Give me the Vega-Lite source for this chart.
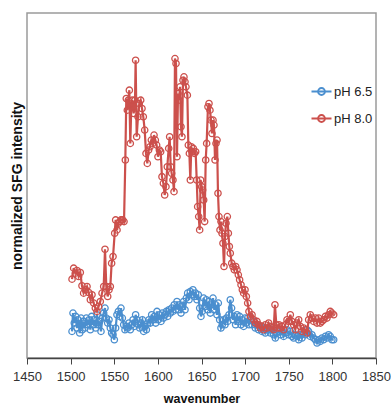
{
  "$schema": "https://vega.github.io/schema/vega-lite/v6.json",
  "width": 349,
  "height": 345,
  "autosize": {"type": "none"},
  "padding": {"left": 27, "top": 13, "right": 15, "bottom": 50},
  "background": "white",
  "config": {
    "view": {"stroke": "#9a9a9a", "strokeWidth": 1.5},
    "font": "Liberation Sans"
  },
  "datasets": {
    "spectra": [
      {"series":"pH 6.5","wavenumber":1501.6,"intensity":8.0},
      {"series":"pH 6.5","wavenumber":1502.7,"intensity":13.5},
      {"series":"pH 6.5","wavenumber":1504.2,"intensity":10.5},
      {"series":"pH 6.5","wavenumber":1505.8,"intensity":12.5},
      {"series":"pH 6.5","wavenumber":1507.3,"intensity":9.0},
      {"series":"pH 6.5","wavenumber":1508.8,"intensity":11.5},
      {"series":"pH 6.5","wavenumber":1510.4,"intensity":7.5},
      {"series":"pH 6.5","wavenumber":1511.9,"intensity":12.0},
      {"series":"pH 6.5","wavenumber":1513.4,"intensity":8.5},
      {"series":"pH 6.5","wavenumber":1514.9,"intensity":11.0},
      {"series":"pH 6.5","wavenumber":1516.5,"intensity":9.0},
      {"series":"pH 6.5","wavenumber":1518.0,"intensity":12.0},
      {"series":"pH 6.5","wavenumber":1519.5,"intensity":10.0},
      {"series":"pH 6.5","wavenumber":1521.1,"intensity":11.5},
      {"series":"pH 6.5","wavenumber":1522.6,"intensity":8.5},
      {"series":"pH 6.5","wavenumber":1524.1,"intensity":12.5},
      {"series":"pH 6.5","wavenumber":1525.6,"intensity":10.0},
      {"series":"pH 6.5","wavenumber":1527.2,"intensity":11.5},
      {"series":"pH 6.5","wavenumber":1528.7,"intensity":9.0},
      {"series":"pH 6.5","wavenumber":1530.2,"intensity":13.0},
      {"series":"pH 6.5","wavenumber":1531.8,"intensity":10.0},
      {"series":"pH 6.5","wavenumber":1533.3,"intensity":11.0},
      {"series":"pH 6.5","wavenumber":1534.8,"intensity":8.0},
      {"series":"pH 6.5","wavenumber":1536.3,"intensity":12.0},
      {"series":"pH 6.5","wavenumber":1537.9,"intensity":13.5},
      {"series":"pH 6.5","wavenumber":1539.4,"intensity":15.0},
      {"series":"pH 6.5","wavenumber":1540.9,"intensity":12.0},
      {"series":"pH 6.5","wavenumber":1542.5,"intensity":10.5},
      {"series":"pH 6.5","wavenumber":1544.0,"intensity":11.5},
      {"series":"pH 6.5","wavenumber":1545.5,"intensity":9.0},
      {"series":"pH 6.5","wavenumber":1547.0,"intensity":7.5},
      {"series":"pH 6.5","wavenumber":1548.6,"intensity":7.0},
      {"series":"pH 6.5","wavenumber":1550.1,"intensity":5.5},
      {"series":"pH 6.5","wavenumber":1551.6,"intensity":9.0},
      {"series":"pH 6.5","wavenumber":1553.1,"intensity":13.0},
      {"series":"pH 6.5","wavenumber":1554.7,"intensity":14.0},
      {"series":"pH 6.5","wavenumber":1556.2,"intensity":12.5},
      {"series":"pH 6.5","wavenumber":1557.7,"intensity":15.0},
      {"series":"pH 6.5","wavenumber":1559.3,"intensity":12.0},
      {"series":"pH 6.5","wavenumber":1560.8,"intensity":10.0},
      {"series":"pH 6.5","wavenumber":1562.3,"intensity":8.5},
      {"series":"pH 6.5","wavenumber":1563.8,"intensity":9.5},
      {"series":"pH 6.5","wavenumber":1565.4,"intensity":9.0},
      {"series":"pH 6.5","wavenumber":1566.9,"intensity":10.5},
      {"series":"pH 6.5","wavenumber":1568.4,"intensity":8.5},
      {"series":"pH 6.5","wavenumber":1570.0,"intensity":10.0},
      {"series":"pH 6.5","wavenumber":1571.5,"intensity":11.5},
      {"series":"pH 6.5","wavenumber":1573.0,"intensity":9.5},
      {"series":"pH 6.5","wavenumber":1574.5,"intensity":13.0},
      {"series":"pH 6.5","wavenumber":1576.1,"intensity":11.5},
      {"series":"pH 6.5","wavenumber":1577.6,"intensity":10.0},
      {"series":"pH 6.5","wavenumber":1579.1,"intensity":9.0},
      {"series":"pH 6.5","wavenumber":1580.6,"intensity":10.5},
      {"series":"pH 6.5","wavenumber":1582.2,"intensity":11.5},
      {"series":"pH 6.5","wavenumber":1583.7,"intensity":8.0},
      {"series":"pH 6.5","wavenumber":1585.2,"intensity":9.5},
      {"series":"pH 6.5","wavenumber":1586.8,"intensity":8.5},
      {"series":"pH 6.5","wavenumber":1588.3,"intensity":10.5},
      {"series":"pH 6.5","wavenumber":1589.8,"intensity":11.5},
      {"series":"pH 6.5","wavenumber":1591.3,"intensity":10.5},
      {"series":"pH 6.5","wavenumber":1592.9,"intensity":13.0},
      {"series":"pH 6.5","wavenumber":1594.4,"intensity":11.5},
      {"series":"pH 6.5","wavenumber":1595.9,"intensity":12.5},
      {"series":"pH 6.5","wavenumber":1597.5,"intensity":10.5},
      {"series":"pH 6.5","wavenumber":1599.0,"intensity":14.0},
      {"series":"pH 6.5","wavenumber":1600.5,"intensity":11.5},
      {"series":"pH 6.5","wavenumber":1602.0,"intensity":13.0},
      {"series":"pH 6.5","wavenumber":1603.6,"intensity":11.0},
      {"series":"pH 6.5","wavenumber":1605.1,"intensity":13.5},
      {"series":"pH 6.5","wavenumber":1606.6,"intensity":12.0},
      {"series":"pH 6.5","wavenumber":1608.1,"intensity":13.0},
      {"series":"pH 6.5","wavenumber":1609.7,"intensity":14.0},
      {"series":"pH 6.5","wavenumber":1611.2,"intensity":12.5},
      {"series":"pH 6.5","wavenumber":1612.7,"intensity":14.5},
      {"series":"pH 6.5","wavenumber":1614.3,"intensity":13.5},
      {"series":"pH 6.5","wavenumber":1615.8,"intensity":15.0},
      {"series":"pH 6.5","wavenumber":1617.3,"intensity":14.0},
      {"series":"pH 6.5","wavenumber":1618.8,"intensity":16.0},
      {"series":"pH 6.5","wavenumber":1620.4,"intensity":14.5},
      {"series":"pH 6.5","wavenumber":1621.9,"intensity":17.0},
      {"series":"pH 6.5","wavenumber":1623.4,"intensity":14.5},
      {"series":"pH 6.5","wavenumber":1625.0,"intensity":16.0},
      {"series":"pH 6.5","wavenumber":1626.5,"intensity":13.5},
      {"series":"pH 6.5","wavenumber":1628.0,"intensity":15.5},
      {"series":"pH 6.5","wavenumber":1629.5,"intensity":17.0},
      {"series":"pH 6.5","wavenumber":1631.1,"intensity":14.5},
      {"series":"pH 6.5","wavenumber":1632.6,"intensity":18.0},
      {"series":"pH 6.5","wavenumber":1634.1,"intensity":19.5},
      {"series":"pH 6.5","wavenumber":1635.7,"intensity":17.5},
      {"series":"pH 6.5","wavenumber":1637.2,"intensity":20.0},
      {"series":"pH 6.5","wavenumber":1638.7,"intensity":19.0},
      {"series":"pH 6.5","wavenumber":1640.2,"intensity":20.5},
      {"series":"pH 6.5","wavenumber":1641.8,"intensity":18.5},
      {"series":"pH 6.5","wavenumber":1643.3,"intensity":19.5},
      {"series":"pH 6.5","wavenumber":1644.8,"intensity":17.5},
      {"series":"pH 6.5","wavenumber":1646.3,"intensity":19.0},
      {"series":"pH 6.5","wavenumber":1647.9,"intensity":15.0},
      {"series":"pH 6.5","wavenumber":1649.4,"intensity":12.5},
      {"series":"pH 6.5","wavenumber":1650.9,"intensity":14.0},
      {"series":"pH 6.5","wavenumber":1652.5,"intensity":18.0},
      {"series":"pH 6.5","wavenumber":1654.0,"intensity":15.5},
      {"series":"pH 6.5","wavenumber":1655.5,"intensity":17.5},
      {"series":"pH 6.5","wavenumber":1657.0,"intensity":14.5},
      {"series":"pH 6.5","wavenumber":1658.6,"intensity":17.0},
      {"series":"pH 6.5","wavenumber":1660.1,"intensity":13.5},
      {"series":"pH 6.5","wavenumber":1661.6,"intensity":16.0},
      {"series":"pH 6.5","wavenumber":1663.2,"intensity":18.0},
      {"series":"pH 6.5","wavenumber":1664.7,"intensity":14.5},
      {"series":"pH 6.5","wavenumber":1666.2,"intensity":16.0},
      {"series":"pH 6.5","wavenumber":1667.7,"intensity":13.0},
      {"series":"pH 6.5","wavenumber":1669.3,"intensity":16.5},
      {"series":"pH 6.5","wavenumber":1670.8,"intensity":11.5},
      {"series":"pH 6.5","wavenumber":1672.3,"intensity":9.0},
      {"series":"pH 6.5","wavenumber":1673.8,"intensity":10.0},
      {"series":"pH 6.5","wavenumber":1675.4,"intensity":11.5},
      {"series":"pH 6.5","wavenumber":1676.9,"intensity":10.0},
      {"series":"pH 6.5","wavenumber":1678.4,"intensity":12.0},
      {"series":"pH 6.5","wavenumber":1680.0,"intensity":11.0},
      {"series":"pH 6.5","wavenumber":1681.5,"intensity":13.0},
      {"series":"pH 6.5","wavenumber":1683.0,"intensity":17.5},
      {"series":"pH 6.5","wavenumber":1684.5,"intensity":15.0},
      {"series":"pH 6.5","wavenumber":1686.1,"intensity":11.5},
      {"series":"pH 6.5","wavenumber":1687.6,"intensity":12.5},
      {"series":"pH 6.5","wavenumber":1689.1,"intensity":10.0},
      {"series":"pH 6.5","wavenumber":1690.7,"intensity":13.0},
      {"series":"pH 6.5","wavenumber":1692.2,"intensity":11.0},
      {"series":"pH 6.5","wavenumber":1693.7,"intensity":12.5},
      {"series":"pH 6.5","wavenumber":1695.2,"intensity":10.0},
      {"series":"pH 6.5","wavenumber":1696.8,"intensity":11.5},
      {"series":"pH 6.5","wavenumber":1698.3,"intensity":9.5},
      {"series":"pH 6.5","wavenumber":1699.8,"intensity":12.0},
      {"series":"pH 6.5","wavenumber":1701.4,"intensity":10.5},
      {"series":"pH 6.5","wavenumber":1702.9,"intensity":12.0},
      {"series":"pH 6.5","wavenumber":1704.4,"intensity":10.0},
      {"series":"pH 6.5","wavenumber":1705.9,"intensity":11.5},
      {"series":"pH 6.5","wavenumber":1707.9,"intensity":10.0},
      {"series":"pH 6.5","wavenumber":1709.8,"intensity":11.0},
      {"series":"pH 6.5","wavenumber":1711.7,"intensity":9.0},
      {"series":"pH 6.5","wavenumber":1713.6,"intensity":10.0},
      {"series":"pH 6.5","wavenumber":1715.5,"intensity":8.5},
      {"series":"pH 6.5","wavenumber":1717.4,"intensity":9.5},
      {"series":"pH 6.5","wavenumber":1719.3,"intensity":8.0},
      {"series":"pH 6.5","wavenumber":1721.2,"intensity":9.0},
      {"series":"pH 6.5","wavenumber":1723.2,"intensity":7.5},
      {"series":"pH 6.5","wavenumber":1725.1,"intensity":8.5},
      {"series":"pH 6.5","wavenumber":1727.0,"intensity":9.0},
      {"series":"pH 6.5","wavenumber":1728.9,"intensity":7.5},
      {"series":"pH 6.5","wavenumber":1730.8,"intensity":8.5},
      {"series":"pH 6.5","wavenumber":1732.7,"intensity":7.0},
      {"series":"pH 6.5","wavenumber":1734.6,"intensity":6.0},
      {"series":"pH 6.5","wavenumber":1736.5,"intensity":7.5},
      {"series":"pH 6.5","wavenumber":1738.4,"intensity":8.0},
      {"series":"pH 6.5","wavenumber":1740.4,"intensity":7.0},
      {"series":"pH 6.5","wavenumber":1742.3,"intensity":8.0},
      {"series":"pH 6.5","wavenumber":1744.2,"intensity":6.5},
      {"series":"pH 6.5","wavenumber":1746.1,"intensity":7.5},
      {"series":"pH 6.5","wavenumber":1748.0,"intensity":8.5},
      {"series":"pH 6.5","wavenumber":1749.9,"intensity":7.0},
      {"series":"pH 6.5","wavenumber":1751.8,"intensity":8.0},
      {"series":"pH 6.5","wavenumber":1753.7,"intensity":6.5},
      {"series":"pH 6.5","wavenumber":1755.6,"intensity":6.0},
      {"series":"pH 6.5","wavenumber":1757.5,"intensity":7.0},
      {"series":"pH 6.5","wavenumber":1759.5,"intensity":6.5},
      {"series":"pH 6.5","wavenumber":1761.4,"intensity":5.5},
      {"series":"pH 6.5","wavenumber":1763.3,"intensity":7.0},
      {"series":"pH 6.5","wavenumber":1765.2,"intensity":6.0},
      {"series":"pH 6.5","wavenumber":1767.1,"intensity":7.5},
      {"series":"pH 6.5","wavenumber":1769.0,"intensity":7.0},
      {"series":"pH 6.5","wavenumber":1770.9,"intensity":8.5},
      {"series":"pH 6.5","wavenumber":1772.8,"intensity":8.0},
      {"series":"pH 6.5","wavenumber":1774.7,"intensity":6.5},
      {"series":"pH 6.5","wavenumber":1776.6,"intensity":7.0},
      {"series":"pH 6.5","wavenumber":1778.5,"intensity":6.0},
      {"series":"pH 6.5","wavenumber":1780.5,"intensity":5.5},
      {"series":"pH 6.5","wavenumber":1782.4,"intensity":4.5},
      {"series":"pH 6.5","wavenumber":1784.3,"intensity":5.5},
      {"series":"pH 6.5","wavenumber":1786.2,"intensity":5.0},
      {"series":"pH 6.5","wavenumber":1788.1,"intensity":6.0},
      {"series":"pH 6.5","wavenumber":1790.0,"intensity":5.5},
      {"series":"pH 6.5","wavenumber":1791.9,"intensity":6.5},
      {"series":"pH 6.5","wavenumber":1793.8,"intensity":6.0},
      {"series":"pH 6.5","wavenumber":1795.7,"intensity":7.0},
      {"series":"pH 6.5","wavenumber":1797.6,"intensity":6.5},
      {"series":"pH 6.5","wavenumber":1799.5,"intensity":5.5},
      {"series":"pH 6.5","wavenumber":1801.5,"intensity":5.5},
      {"series":"pH 8.0","wavenumber":1501.6,"intensity":23.7},
      {"series":"pH 8.0","wavenumber":1503.5,"intensity":27.0},
      {"series":"pH 8.0","wavenumber":1505.4,"intensity":25.5},
      {"series":"pH 8.0","wavenumber":1507.3,"intensity":26.3},
      {"series":"pH 8.0","wavenumber":1509.2,"intensity":24.5},
      {"series":"pH 8.0","wavenumber":1511.1,"intensity":25.7},
      {"series":"pH 8.0","wavenumber":1513.0,"intensity":21.7},
      {"series":"pH 8.0","wavenumber":1514.9,"intensity":19.5},
      {"series":"pH 8.0","wavenumber":1516.9,"intensity":20.5},
      {"series":"pH 8.0","wavenumber":1518.8,"intensity":21.5},
      {"series":"pH 8.0","wavenumber":1520.7,"intensity":19.7},
      {"series":"pH 8.0","wavenumber":1522.6,"intensity":17.5},
      {"series":"pH 8.0","wavenumber":1524.5,"intensity":19.0},
      {"series":"pH 8.0","wavenumber":1526.4,"intensity":16.5},
      {"series":"pH 8.0","wavenumber":1528.3,"intensity":15.0},
      {"series":"pH 8.0","wavenumber":1530.2,"intensity":14.0},
      {"series":"pH 8.0","wavenumber":1532.1,"intensity":15.5},
      {"series":"pH 8.0","wavenumber":1534.0,"intensity":17.0},
      {"series":"pH 8.0","wavenumber":1536.0,"intensity":19.5},
      {"series":"pH 8.0","wavenumber":1537.9,"intensity":21.5},
      {"series":"pH 8.0","wavenumber":1539.4,"intensity":32.7},
      {"series":"pH 8.0","wavenumber":1540.9,"intensity":21.5},
      {"series":"pH 8.0","wavenumber":1542.5,"intensity":18.5},
      {"series":"pH 8.0","wavenumber":1544.0,"intensity":20.5},
      {"series":"pH 8.0","wavenumber":1545.5,"intensity":21.5},
      {"series":"pH 8.0","wavenumber":1547.0,"intensity":28.5},
      {"series":"pH 8.0","wavenumber":1548.6,"intensity":30.5},
      {"series":"pH 8.0","wavenumber":1550.5,"intensity":37.5},
      {"series":"pH 8.0","wavenumber":1551.6,"intensity":41.5},
      {"series":"pH 8.0","wavenumber":1553.2,"intensity":38.5},
      {"series":"pH 8.0","wavenumber":1554.7,"intensity":40.5},
      {"series":"pH 8.0","wavenumber":1556.2,"intensity":41.0},
      {"series":"pH 8.0","wavenumber":1557.7,"intensity":41.5},
      {"series":"pH 8.0","wavenumber":1559.6,"intensity":41.5},
      {"series":"pH 8.0","wavenumber":1561.2,"intensity":41.0},
      {"series":"pH 8.0","wavenumber":1562.7,"intensity":59.5},
      {"series":"pH 8.0","wavenumber":1563.8,"intensity":78.0},
      {"series":"pH 8.0","wavenumber":1565.0,"intensity":74.5},
      {"series":"pH 8.0","wavenumber":1566.1,"intensity":77.5},
      {"series":"pH 8.0","wavenumber":1567.3,"intensity":80.5},
      {"series":"pH 8.0","wavenumber":1568.4,"intensity":64.5},
      {"series":"pH 8.0","wavenumber":1569.6,"intensity":76.4},
      {"series":"pH 8.0","wavenumber":1570.7,"intensity":77.5},
      {"series":"pH 8.0","wavenumber":1572.3,"intensity":73.5},
      {"series":"pH 8.0","wavenumber":1573.8,"intensity":77.5},
      {"series":"pH 8.0","wavenumber":1574.5,"intensity":89.5},
      {"series":"pH 8.0","wavenumber":1575.7,"intensity":66.5},
      {"series":"pH 8.0","wavenumber":1577.2,"intensity":72.5},
      {"series":"pH 8.0","wavenumber":1578.7,"intensity":76.5},
      {"series":"pH 8.0","wavenumber":1580.3,"intensity":77.5},
      {"series":"pH 8.0","wavenumber":1581.8,"intensity":75.0},
      {"series":"pH 8.0","wavenumber":1583.3,"intensity":72.5},
      {"series":"pH 8.0","wavenumber":1584.9,"intensity":68.5},
      {"series":"pH 8.0","wavenumber":1586.4,"intensity":61.5},
      {"series":"pH 8.0","wavenumber":1587.9,"intensity":58.5},
      {"series":"pH 8.0","wavenumber":1589.4,"intensity":62.5},
      {"series":"pH 8.0","wavenumber":1591.0,"intensity":63.5},
      {"series":"pH 8.0","wavenumber":1592.5,"intensity":65.5},
      {"series":"pH 8.0","wavenumber":1594.0,"intensity":64.5},
      {"series":"pH 8.0","wavenumber":1595.6,"intensity":67.0},
      {"series":"pH 8.0","wavenumber":1597.1,"intensity":65.5},
      {"series":"pH 8.0","wavenumber":1598.6,"intensity":64.0},
      {"series":"pH 8.0","wavenumber":1600.1,"intensity":60.5},
      {"series":"pH 8.0","wavenumber":1601.7,"intensity":62.5},
      {"series":"pH 8.0","wavenumber":1603.2,"intensity":62.0},
      {"series":"pH 8.0","wavenumber":1604.7,"intensity":54.5},
      {"series":"pH 8.0","wavenumber":1606.3,"intensity":52.5},
      {"series":"pH 8.0","wavenumber":1607.8,"intensity":49.0},
      {"series":"pH 8.0","wavenumber":1609.3,"intensity":51.5},
      {"series":"pH 8.0","wavenumber":1610.8,"intensity":57.5},
      {"series":"pH 8.0","wavenumber":1612.4,"intensity":63.0},
      {"series":"pH 8.0","wavenumber":1613.5,"intensity":66.5},
      {"series":"pH 8.0","wavenumber":1614.7,"intensity":57.5},
      {"series":"pH 8.0","wavenumber":1615.8,"intensity":55.5},
      {"series":"pH 8.0","wavenumber":1617.3,"intensity":53.5},
      {"series":"pH 8.0","wavenumber":1618.5,"intensity":50.0},
      {"series":"pH 8.0","wavenumber":1619.6,"intensity":90.0},
      {"series":"pH 8.0","wavenumber":1620.8,"intensity":88.5},
      {"series":"pH 8.0","wavenumber":1621.9,"intensity":60.5},
      {"series":"pH 8.0","wavenumber":1623.1,"intensity":79.5},
      {"series":"pH 8.0","wavenumber":1624.2,"intensity":77.5},
      {"series":"pH 8.0","wavenumber":1625.4,"intensity":81.5},
      {"series":"pH 8.0","wavenumber":1626.5,"intensity":69.5},
      {"series":"pH 8.0","wavenumber":1627.6,"intensity":66.5},
      {"series":"pH 8.0","wavenumber":1628.8,"intensity":83.5},
      {"series":"pH 8.0","wavenumber":1629.9,"intensity":84.5},
      {"series":"pH 8.0","wavenumber":1631.1,"intensity":83.0},
      {"series":"pH 8.0","wavenumber":1632.2,"intensity":81.5},
      {"series":"pH 8.0","wavenumber":1633.8,"intensity":79.0},
      {"series":"pH 8.0","wavenumber":1634.9,"intensity":64.0},
      {"series":"pH 8.0","wavenumber":1636.1,"intensity":61.5},
      {"series":"pH 8.0","wavenumber":1637.2,"intensity":53.5},
      {"series":"pH 8.0","wavenumber":1638.3,"intensity":63.5},
      {"series":"pH 8.0","wavenumber":1639.5,"intensity":62.0},
      {"series":"pH 8.0","wavenumber":1640.6,"intensity":63.0},
      {"series":"pH 8.0","wavenumber":1641.8,"intensity":61.5},
      {"series":"pH 8.0","wavenumber":1643.3,"intensity":62.0},
      {"series":"pH 8.0","wavenumber":1644.5,"intensity":53.5},
      {"series":"pH 8.0","wavenumber":1645.6,"intensity":45.5},
      {"series":"pH 8.0","wavenumber":1646.8,"intensity":42.5},
      {"series":"pH 8.0","wavenumber":1647.9,"intensity":38.5},
      {"series":"pH 8.0","wavenumber":1649.0,"intensity":53.5},
      {"series":"pH 8.0","wavenumber":1650.2,"intensity":51.5},
      {"series":"pH 8.0","wavenumber":1651.3,"intensity":50.5},
      {"series":"pH 8.0","wavenumber":1652.5,"intensity":47.5},
      {"series":"pH 8.0","wavenumber":1653.6,"intensity":41.0},
      {"series":"pH 8.0","wavenumber":1654.8,"intensity":59.5},
      {"series":"pH 8.0","wavenumber":1655.9,"intensity":64.5},
      {"series":"pH 8.0","wavenumber":1657.4,"intensity":75.5},
      {"series":"pH 8.0","wavenumber":1658.6,"intensity":76.5},
      {"series":"pH 8.0","wavenumber":1659.7,"intensity":74.5},
      {"series":"pH 8.0","wavenumber":1660.9,"intensity":71.5},
      {"series":"pH 8.0","wavenumber":1662.0,"intensity":67.5},
      {"series":"pH 8.0","wavenumber":1663.2,"intensity":71.5},
      {"series":"pH 8.0","wavenumber":1664.3,"intensity":70.0},
      {"series":"pH 8.0","wavenumber":1665.5,"intensity":59.5},
      {"series":"pH 8.0","wavenumber":1666.6,"intensity":64.5},
      {"series":"pH 8.0","wavenumber":1667.8,"intensity":65.5},
      {"series":"pH 8.0","wavenumber":1668.9,"intensity":49.5},
      {"series":"pH 8.0","wavenumber":1670.0,"intensity":42.5},
      {"series":"pH 8.0","wavenumber":1671.2,"intensity":38.5},
      {"series":"pH 8.0","wavenumber":1672.3,"intensity":41.0},
      {"series":"pH 8.0","wavenumber":1673.5,"intensity":37.5},
      {"series":"pH 8.0","wavenumber":1674.6,"intensity":34.5},
      {"series":"pH 8.0","wavenumber":1675.8,"intensity":27.5},
      {"series":"pH 8.0","wavenumber":1676.9,"intensity":36.5},
      {"series":"pH 8.0","wavenumber":1678.1,"intensity":40.5},
      {"series":"pH 8.0","wavenumber":1679.6,"intensity":42.5},
      {"series":"pH 8.0","wavenumber":1680.8,"intensity":37.5},
      {"series":"pH 8.0","wavenumber":1681.9,"intensity":33.5},
      {"series":"pH 8.0","wavenumber":1683.0,"intensity":31.5},
      {"series":"pH 8.0","wavenumber":1684.6,"intensity":28.5},
      {"series":"pH 8.0","wavenumber":1686.1,"intensity":27.5},
      {"series":"pH 8.0","wavenumber":1687.6,"intensity":26.5},
      {"series":"pH 8.0","wavenumber":1689.2,"intensity":27.5},
      {"series":"pH 8.0","wavenumber":1690.7,"intensity":26.5},
      {"series":"pH 8.0","wavenumber":1692.2,"intensity":25.0},
      {"series":"pH 8.0","wavenumber":1693.7,"intensity":23.5},
      {"series":"pH 8.0","wavenumber":1695.3,"intensity":22.0},
      {"series":"pH 8.0","wavenumber":1696.8,"intensity":20.5},
      {"series":"pH 8.0","wavenumber":1698.3,"intensity":19.5},
      {"series":"pH 8.0","wavenumber":1699.9,"intensity":20.5},
      {"series":"pH 8.0","wavenumber":1701.4,"intensity":18.5},
      {"series":"pH 8.0","wavenumber":1702.9,"intensity":16.5},
      {"series":"pH 8.0","wavenumber":1704.4,"intensity":14.0},
      {"series":"pH 8.0","wavenumber":1706.0,"intensity":12.5},
      {"series":"pH 8.0","wavenumber":1707.9,"intensity":13.0},
      {"series":"pH 8.0","wavenumber":1709.8,"intensity":11.5},
      {"series":"pH 8.0","wavenumber":1711.7,"intensity":10.5},
      {"series":"pH 8.0","wavenumber":1713.6,"intensity":11.0},
      {"series":"pH 8.0","wavenumber":1715.5,"intensity":10.0},
      {"series":"pH 8.0","wavenumber":1717.4,"intensity":9.0},
      {"series":"pH 8.0","wavenumber":1719.3,"intensity":9.5},
      {"series":"pH 8.0","wavenumber":1721.2,"intensity":8.5},
      {"series":"pH 8.0","wavenumber":1723.2,"intensity":10.0},
      {"series":"pH 8.0","wavenumber":1725.1,"intensity":9.0},
      {"series":"pH 8.0","wavenumber":1727.0,"intensity":10.5},
      {"series":"pH 8.0","wavenumber":1728.9,"intensity":9.5},
      {"series":"pH 8.0","wavenumber":1730.8,"intensity":9.0},
      {"series":"pH 8.0","wavenumber":1732.7,"intensity":8.5},
      {"series":"pH 8.0","wavenumber":1734.2,"intensity":16.0},
      {"series":"pH 8.0","wavenumber":1735.8,"intensity":10.0},
      {"series":"pH 8.0","wavenumber":1737.3,"intensity":9.0},
      {"series":"pH 8.0","wavenumber":1738.8,"intensity":10.0},
      {"series":"pH 8.0","wavenumber":1740.4,"intensity":9.0},
      {"series":"pH 8.0","wavenumber":1742.3,"intensity":9.5},
      {"series":"pH 8.0","wavenumber":1744.2,"intensity":8.5},
      {"series":"pH 8.0","wavenumber":1746.1,"intensity":10.0},
      {"series":"pH 8.0","wavenumber":1748.0,"intensity":11.5},
      {"series":"pH 8.0","wavenumber":1749.9,"intensity":11.0},
      {"series":"pH 8.0","wavenumber":1751.8,"intensity":13.0},
      {"series":"pH 8.0","wavenumber":1753.7,"intensity":11.0},
      {"series":"pH 8.0","wavenumber":1755.6,"intensity":10.0},
      {"series":"pH 8.0","wavenumber":1757.5,"intensity":8.5},
      {"series":"pH 8.0","wavenumber":1759.5,"intensity":10.5},
      {"series":"pH 8.0","wavenumber":1761.4,"intensity":11.5},
      {"series":"pH 8.0","wavenumber":1763.3,"intensity":9.5},
      {"series":"pH 8.0","wavenumber":1765.2,"intensity":8.0},
      {"series":"pH 8.0","wavenumber":1767.1,"intensity":9.0},
      {"series":"pH 8.0","wavenumber":1769.0,"intensity":8.5},
      {"series":"pH 8.0","wavenumber":1770.9,"intensity":7.5},
      {"series":"pH 8.0","wavenumber":1772.8,"intensity":11.5},
      {"series":"pH 8.0","wavenumber":1774.7,"intensity":13.0},
      {"series":"pH 8.0","wavenumber":1776.6,"intensity":12.0},
      {"series":"pH 8.0","wavenumber":1778.5,"intensity":11.0},
      {"series":"pH 8.0","wavenumber":1780.5,"intensity":12.0},
      {"series":"pH 8.0","wavenumber":1782.4,"intensity":10.5},
      {"series":"pH 8.0","wavenumber":1784.3,"intensity":12.0},
      {"series":"pH 8.0","wavenumber":1786.2,"intensity":10.5},
      {"series":"pH 8.0","wavenumber":1788.1,"intensity":11.0},
      {"series":"pH 8.0","wavenumber":1790.0,"intensity":11.5},
      {"series":"pH 8.0","wavenumber":1791.9,"intensity":12.5},
      {"series":"pH 8.0","wavenumber":1793.8,"intensity":12.0},
      {"series":"pH 8.0","wavenumber":1795.7,"intensity":13.0},
      {"series":"pH 8.0","wavenumber":1797.6,"intensity":14.0},
      {"series":"pH 8.0","wavenumber":1799.5,"intensity":13.5},
      {"series":"pH 8.0","wavenumber":1801.5,"intensity":13.0}
    ],
    "frame": [{"edge": "top"}]
  },
  "layer": [
    {
      "data": {"name": "spectra"},
      "transform": [{"filter": "datum.series === 'pH 6.5'"}],
      "mark": {"type": "line", "strokeWidth": 2.2, "point": {"filled": false, "size": 40, "strokeWidth": 1.3}},
      "encoding": {
        "x": {"field": "wavenumber", "type": "quantitative"},
        "y": {"field": "intensity", "type": "quantitative"},
        "color": {"field": "series", "type": "nominal"}
      }
    },
    {
      "data": {"name": "spectra"},
      "transform": [{"filter": "datum.series === 'pH 8.0'"}],
      "mark": {"type": "line", "strokeWidth": 2.2, "point": {"filled": false, "size": 40, "strokeWidth": 1.3}},
      "encoding": {
        "x": {"field": "wavenumber", "type": "quantitative"},
        "y": {"field": "intensity", "type": "quantitative"},
        "color": {"field": "series", "type": "nominal"}
      }
    },
    {
      "data": {"name": "frame"},
      "mark": {"type": "rule", "color": "#2a2a2a", "strokeWidth": 2.5},
      "encoding": {"y": {"datum": 103.7}}
    }
  ],
  "resolve": {"scale": {"color": "shared"}},
  "encoding": {
    "x": {
      "field": "wavenumber",
      "type": "quantitative",
      "scale": {"domain": [1450, 1850], "nice": false, "zero": false},
      "axis": {
        "title": "wavenumber",
        "values": [1450, 1500, 1550, 1600, 1650, 1700, 1750, 1800, 1850],
        "format": "d",
        "labelOverlap": false,
        "labelFlush": false,
        "grid": false,
        "domainColor": "#444",
        "domainWidth": 1.5,
        "tickColor": "#444",
        "tickSize": 6,
        "labelFont": "Liberation Sans",
        "labelFontSize": 13,
        "labelColor": "#333",
        "labelPadding": 6,
        "titleFont": "Liberation Sans",
        "titleFontSize": 12.5,
        "titleFontWeight": "bold",
        "titleColor": "#111",
        "titlePadding": 9
      }
    },
    "y": {
      "field": "intensity",
      "type": "quantitative",
      "scale": {"domain": [0, 103.7], "nice": false},
      "axis": {
        "title": "normalized SFG intensity",
        "labels": false,
        "ticks": false,
        "grid": false,
        "domain": false,
        "titleFont": "Liberation Sans",
        "titleFontSize": 14,
        "titleFontWeight": "bold",
        "titleColor": "#111",
        "titlePadding": 3
      }
    },
    "color": {
      "field": "series",
      "type": "nominal",
      "scale": {"domain": ["pH 6.5", "pH 8.0"], "range": ["#4b8fcf", "#cc504c"]},
      "legend": {
        "title": null,
        "orient": "none",
        "legendX": 288,
        "legendY": 72,
        "symbolType": "M-2,0L2,0M-0.7,0A0.7,0.7,0,1,1,0.7,0A0.7,0.7,0,1,1,-0.7,0",
        "symbolSize": 100,
        "symbolStrokeWidth": 1.8,
        "symbolFillColor": "transparent",
        "labelFont": "Liberation Sans",
        "labelFontSize": 13,
        "labelColor": "#222",
        "labelOffset": 6,
        "rowPadding": 12
      }
    }
  }
}
